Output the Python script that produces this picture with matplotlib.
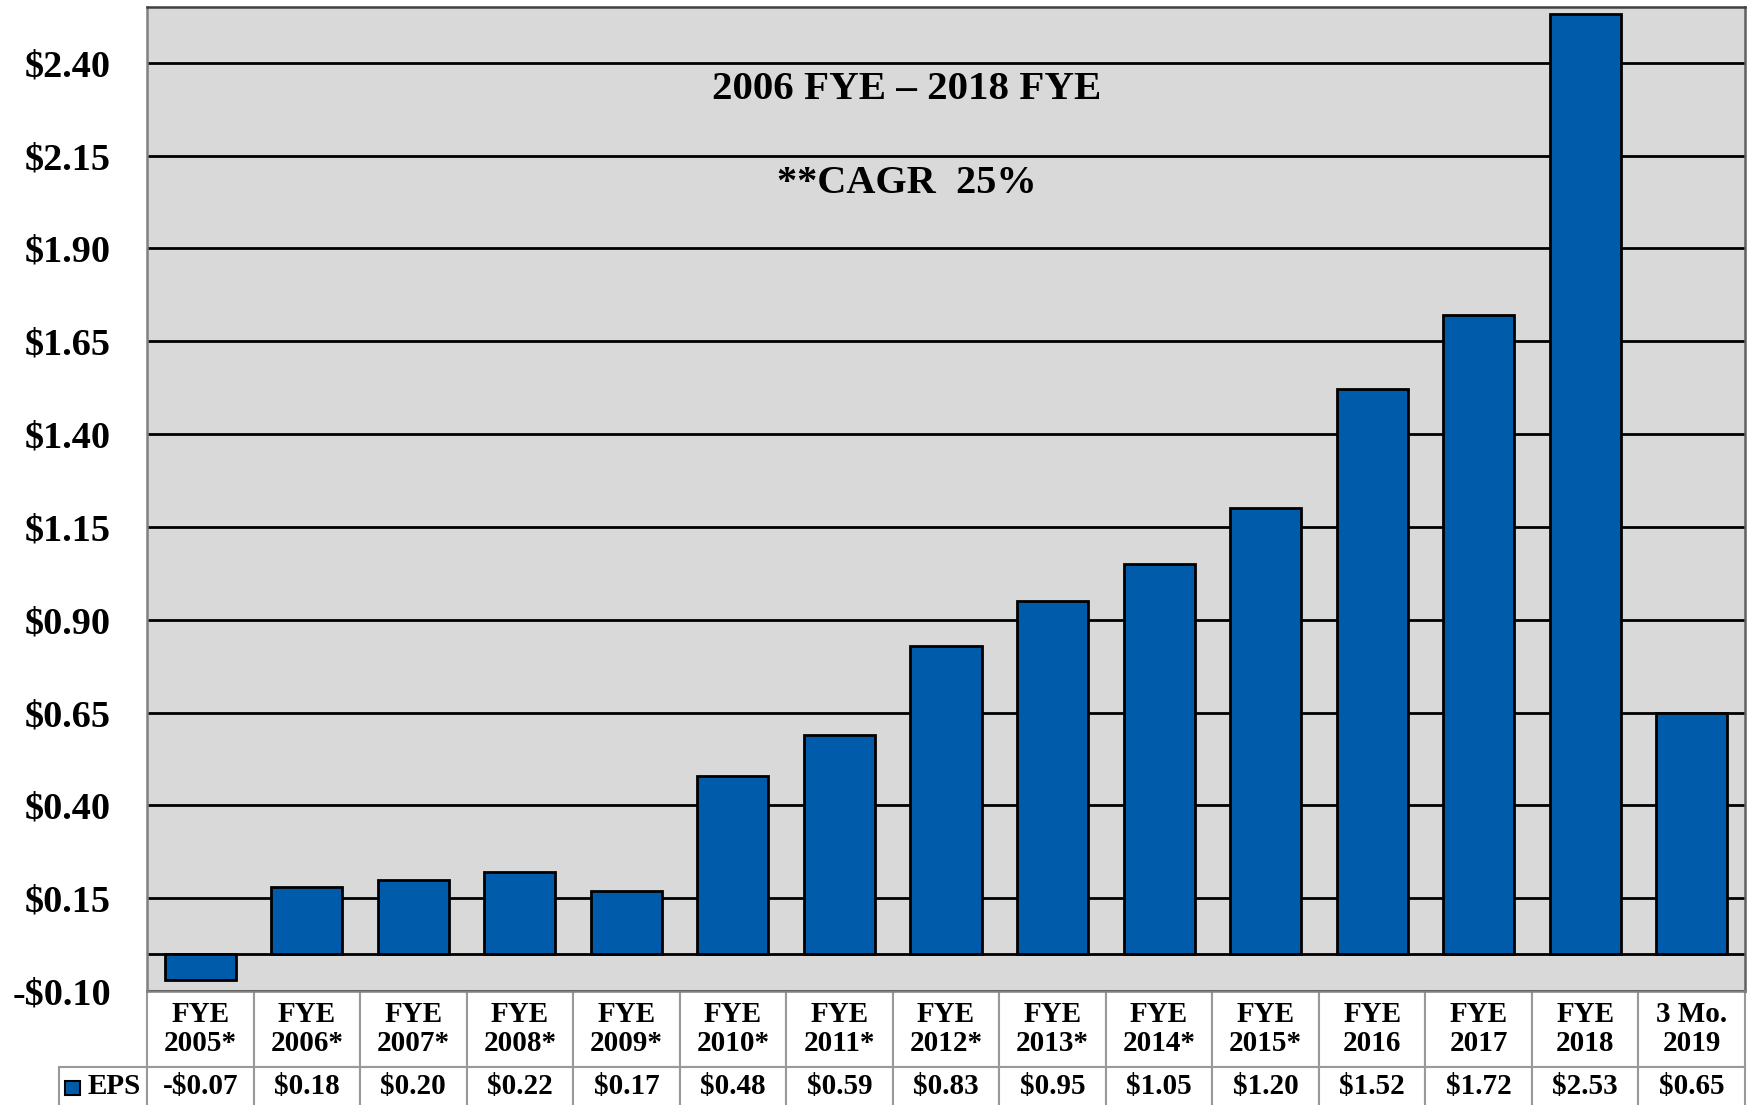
import matplotlib
matplotlib.use("Agg")
import matplotlib.pyplot as plt
import numpy as np
from matplotlib.table import Table
from matplotlib.patches import Rectangle

# datos
categories = ["FYE\n2005*", "FYE\n2006*", "FYE\n2007*", "FYE\n2008*", "FYE\n2009*",
              "FYE\n2010*", "FYE\n2011*", "FYE\n2012*", "FYE\n2013*", "FYE\n2014*",
              "FYE\n2015*", "FYE\n2016", "FYE\n2017", "FYE\n2018", "3 Mo.\n2019"]
eps = [-0.07, 0.18, 0.20, 0.22, 0.17, 0.48, 0.59, 0.83, 0.95, 1.05,
       1.20, 1.52, 1.72, 2.53, 0.65]
series_name = "EPS"
title_lines = ["2006 FYE \u2013 2018 FYE", "**CAGR  25%"]
y_ticks = [-0.10, 0.15, 0.40, 0.65, 0.90, 1.15, 1.40, 1.65, 1.90, 2.15, 2.40]


def money(v):
    return ("-$%.2f" % abs(v)) if v < 0 else ("$%.2f" % v)


FONT = "Liberation Serif"
BLUE = "#005BAA"

fig = plt.figure(figsize=(17.58, 11.05), dpi=100)
ax = fig.add_axes([147/1758, 1 - 991/1105, (1745 - 147)/1758, (991 - 7)/1105])
ax.set_facecolor("#D9D9D9")

x = np.arange(len(eps))
ax.bar(x, eps, width=0.667, color=BLUE, edgecolor="black", linewidth=2, zorder=3)
ax.axhline(0, color="black", lw=2, zorder=2)

ax.set_xlim(-0.5, len(eps) - 0.5)
ax.set_ylim(-0.10, 2.55)
ax.set_yticks(y_ticks)
ax.set_yticklabels([money(v) for v in y_ticks], fontfamily=FONT,
                   fontweight="bold", fontsize=27.5)
ax.tick_params(axis="y", length=0, pad=26)
ax.set_xticks([])
ax.yaxis.grid(True, color="black", lw=2)
ax.set_axisbelow(True)

ax.spines["left"].set_color("#808080")
ax.spines["top"].set_color("#404040")
ax.spines["right"].set_color("#606060")
ax.spines["bottom"].set_color("#808080")
for s in ax.spines.values():
    s.set_linewidth(1.8)

# titulo dentro del grafico
ax.text(0.4756, 0.9065, title_lines[0], transform=ax.transAxes, ha="center",
        va="baseline", fontfamily=FONT, fontweight="bold", fontsize=29.5)
ax.text(0.4756, 0.811, title_lines[1], transform=ax.transAxes, ha="center",
        va="baseline", fontfamily=FONT, fontweight="bold", fontsize=29)

# tabla de datos (anchos y altos en coordenadas de ejes)
ax_h = 984
col_w = 1 / len(categories)
lab_w = 88 / 1598
hh, he = 76 / ax_h, 40 / ax_h
tbl = Table(ax, bbox=[0, -(hh + he), 1, hh + he])
for j, cat in enumerate(categories):
    tbl.add_cell(0, j, width=col_w, height=hh, text=cat, loc="center")
    tbl.add_cell(1, j, width=col_w, height=he, text=money(eps[j]), loc="center")
tbl.add_cell(1, -1, width=lab_w, height=he, text=series_name, loc="right")
tbl.auto_set_font_size(False)
for key, cell in tbl.get_celld().items():
    cell.set_edgecolor("#999999")
    cell.set_linewidth(1.5)
    t = cell.get_text()
    t.set_fontfamily(FONT)
    t.set_fontweight("bold")
    t.set_fontsize(21)
    t.set_linespacing(1.05)
tbl[1, -1].PAD = 0.07
ax.add_table(tbl)

# cuadrito de leyenda
ax.add_patch(Rectangle(((65 - 147) / 1598, (991 - 1095) / 984), 15 / 1598, 14 / 984,
                       transform=ax.transAxes, facecolor=BLUE, edgecolor="black",
                       lw=1.5, clip_on=False))

fig.savefig("out.png", dpi=100)
